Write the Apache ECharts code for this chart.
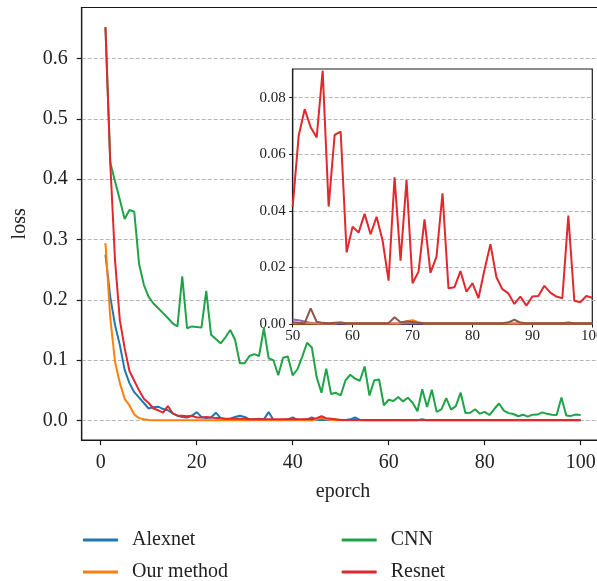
<!DOCTYPE html>
<html>
<head>
<meta charset="utf-8">
<script src="https://cdn.jsdelivr.net/npm/echarts@6/dist/echarts.min.js"></script>
<style>
html,body{margin:0;padding:0;background:#fff;}
#chart{width:597px;height:581px;}
</style>
</head>
<body>
<div id="chart"></div>
<script>
// ---- data ----
const epochs = Array.from({length: 100}, (_, i) => i + 1);

const alexnet = [0.275,0.205,0.158,0.125,0.084,0.062,0.047,0.038,0.029,0.020,
  0.022,0.023,0.019,0.017,0.012,0.008,0.006,0.005,0.008,0.014,
  0.006,0.004,0.005,0.013,0.004,0.002,0.003,0.006,0.008,0.006,
  0.002,0.002,0.003,0.002,0.014,0.001,0.001,0.001,0.002,0.005,
  0.001,0.001,0.002,0.005,0.001,0.001,0.001,0.001,0.001,0.001,
  0.001,0.002,0.005,0.001,0.0005,0.0005,0.0005,0.0005,0.0005,0.0005,
  0.0005,0.0005,0.0005,0.0005,0.0005,0.0005,0.002,0.0005,0.0005,0.0005,
  0.0005,0.0005,0.0005,0.0005,0.0005,0.0005,0.0005,0.0005,0.0005,0.0005,
  0.0005,0.0005,0.0005,0.0005,0.0005,0.0005,0.0005,0.0005,0.0005,0.0005,
  0.0005,0.0005,0.0005,0.0005,0.0005,0.0005,0.0005,0.0005,0.0005,0.0005];

const ourMethod = [0.294,0.170,0.097,0.062,0.036,0.025,0.010,0.004,0.002,0.001,
  0.0005,0.0005,0.0005,0.0005,0.0005,0.0005,0.0005,0.0005,0.0005,0.0005,
  0.0005,0.0005,0.0005,0.0005,0.0005,0.0005,0.0005,0.0005,0.0005,0.0005,
  0.0005,0.0005,0.0005,0.0005,0.0005,0.0005,0.0005,0.0005,0.0005,0.0005,
  0.0005,0.0005,0.0005,0.0005,0.002,0.004,0.002,0.001,0.0005,0.0005,
  0.0005,0.0005,0.0005,0.0005,0.0005,0.0005,0.0005,0.0005,0.0005,0.0005,
  0.0005,0.0005,0.0005,0.0005,0.0005,0.0005,0.0005,0.0005,0.0005,0.0005,
  0.0005,0.0005,0.0005,0.0005,0.0005,0.0005,0.0005,0.0005,0.0005,0.0005,
  0.0005,0.0005,0.0005,0.0005,0.0005,0.0005,0.0005,0.0005,0.0005,0.0005,
  0.0005,0.0005,0.0005,0.0005,0.0005,0.0005,0.0005,0.0005,0.0005,0.0005];

const cnn = [0.652,0.428,0.396,0.366,0.334,0.349,0.346,0.260,0.225,0.205,
  0.194,0.186,0.178,0.170,0.161,0.156,0.239,0.153,0.156,0.155,
  0.154,0.215,0.142,0.135,0.128,0.138,0.150,0.134,0.095,0.095,
  0.107,0.110,0.107,0.153,0.103,0.100,0.075,0.104,0.106,0.075,
  0.085,0.106,0.129,0.121,0.072,0.046,0.086,0.044,0.046,0.0415,
  0.0665,0.0759,0.0695,0.0659,0.0895,0.0415,0.0668,0.0680,0.0253,0.0344,
  0.0323,0.0389,0.0317,0.0379,0.0295,0.0153,0.0518,0.0224,0.0509,0.0144,
  0.0185,0.0370,0.0181,0.0238,0.0462,0.0126,0.0130,0.0187,0.0114,0.0144,
  0.0091,0.0191,0.0282,0.0165,0.0123,0.0108,0.0071,0.0097,0.0065,0.0097,
  0.0099,0.0135,0.0111,0.0097,0.0091,0.0383,0.0082,0.0077,0.0099,0.0093];

const resnet = [0.652,0.427,0.265,0.166,0.120,0.082,0.066,0.050,0.036,0.029,
  0.020,0.017,0.013,0.024,0.012,0.008,0.008,0.007,0.008,0.005,
  0.005,0.006,0.005,0.004,0.004,0.003,0.003,0.003,0.003,0.003,
  0.002,0.002,0.002,0.002,0.002,0.002,0.002,0.002,0.002,0.002,
  0.002,0.002,0.002,0.002,0.004,0.007,0.004,0.003,0.002,0.001,
  0.001,0.001,0.001,0.001,0.001,0.001,0.001,0.001,0.001,0.001,
  0.001,0.001,0.001,0.001,0.001,0.001,0.001,0.001,0.001,0.001,
  0.001,0.001,0.001,0.001,0.001,0.001,0.001,0.001,0.001,0.001,
  0.001,0.001,0.001,0.001,0.001,0.001,0.001,0.001,0.001,0.001,
  0.001,0.001,0.001,0.001,0.001,0.001,0.001,0.001,0.001,0.001];

// inset (epochs 50..100)
const insetEpochs = Array.from({length: 51}, (_, i) => i + 50);
const insetPurple = [0.0016,0.0013,0.0009,0.0004,0.0002,0.0002,0.0002,0.0002,0.0002,0.0002,
  0.0002,0.0002,0.0002,0.0002,0.0002,0.0002,0.0002,0.0002,0.0002,0.0002,
  0.0002,0.0002,0.0002,0.0002,0.0002,0.0002,0.0002,0.0002,0.0002,0.0002,
  0.0002,0.0002,0.0002,0.0002,0.0002,0.0002,0.0002,0.0002,0.0002,0.0002,
  0.0002,0.0002,0.0002,0.0002,0.0002,0.0002,0.0002,0.0002,0.0002,0.0002,0.0002];
const insetOrange = [0.0002,0.0002,0.0002,0.0002,0.0002,0.0002,0.0002,0.0002,0.0005,0.0002,
  0.0002,0.0002,0.0002,0.0002,0.0002,0.0002,0.0002,0.0002,0.0002,0.0010,
  0.0013,0.0006,0.0002,0.0002,0.0002,0.0002,0.0002,0.0002,0.0002,0.0002,
  0.0002,0.0002,0.0002,0.0002,0.0002,0.0002,0.0002,0.0002,0.0002,0.0002,
  0.0002,0.0002,0.0002,0.0002,0.0002,0.0002,0.0002,0.0002,0.0002,0.0002,0.0002];
const insetBrown = [0.0006,0.0004,0.0003,0.0055,0.0008,0.0004,0.0003,0.0004,0.0005,0.0003,
  0.0003,0.0003,0.0003,0.0003,0.0003,0.0003,0.0003,0.0024,0.0006,0.0009,
  0.0007,0.0004,0.0003,0.0003,0.0003,0.0003,0.0003,0.0003,0.0003,0.0003,
  0.0003,0.0003,0.0003,0.0003,0.0003,0.0003,0.0006,0.0015,0.0005,0.0003,
  0.0003,0.0003,0.0003,0.0003,0.0003,0.0003,0.0005,0.0003,0.0003,0.0003,0.0003];
const insetRed = cnn.slice(49);

const mainXTicks = [0, 20, 40, 60, 80, 100];
const mainYTicks = [0, 0.1, 0.2, 0.3, 0.4, 0.5, 0.6];

// ---- chart ----
const FONT = "'Liberation Serif', 'DejaVu Serif', serif";
const pair = (xs, ys) => xs.map((x, i) => [x, ys[i]]);
const chart = echarts.init(document.getElementById('chart'), null, {renderer: 'canvas'});

const gridColor = '#b5b5b5';
const lineSeries = (name, data, color, xi, yi, z) => ({
  name, type: 'line', data, xAxisIndex: xi, yAxisIndex: yi,
  showSymbol: false, symbol: 'none', clip: true, z: z,
  lineStyle: {color, width: 2}, itemStyle: {color},
  emphasis: {disabled: true}, animation: false
});
const legendItem = (name, left, top) => ({
  data: [name], orient: 'horizontal', left, top, padding: 0,
  icon: 'rect', itemWidth: 35, itemHeight: 3,
  textStyle: {fontFamily: FONT, fontSize: 20, color: '#222', padding: [0, 0, 0, 9]}
});

chart.setOption({
  animation: false,
  backgroundColor: '#fff',
  textStyle: {fontFamily: FONT},
  grid: [
    {left: 81.7, top: 7.5, width: 522.7, height: 432.7, show: true, outerBoundsMode: 'none', containLabel: false,
     borderColor: '#1a1a1a', borderWidth: 1.2, backgroundColor: 'transparent'},
    {left: 292.7, top: 69, width: 299.6, height: 255, show: true, outerBoundsMode: 'none', containLabel: false,
     borderColor: '#1a1a1a', borderWidth: 1.2, backgroundColor: 'transparent'}
  ],
  xAxis: [
    {type: 'value', gridIndex: 0, min: -3.95, max: 104.95, splitNumber: 5,
     name: 'eporch', nameLocation: 'middle', nameGap: 42,
     nameTextStyle: {fontFamily: FONT, fontSize: 20, color: '#222'},
     axisLine: {onZero: false, lineStyle: {color: '#1a1a1a', width: 1.2}},
     axisTick: {length: 5, lineStyle: {color: '#1a1a1a', width: 1.2}, customValues: mainXTicks},
     axisLabel: {fontFamily: FONT, fontSize: 20, color: '#222', margin: 13, customValues: mainXTicks},
     splitLine: {show: false}},
    {type: 'value', gridIndex: 1, min: 50, max: 100, interval: 10,
     axisLine: {onZero: false, lineStyle: {color: '#1a1a1a', width: 1.2}},
     axisTick: {length: 3.5, lineStyle: {color: '#1a1a1a', width: 1}},
     axisLabel: {fontFamily: FONT, fontSize: 15, color: '#222', margin: 5, showMinLabel: true, showMaxLabel: true},
     splitLine: {show: false}}
  ],
  yAxis: [
    {type: 'value', gridIndex: 0, min: -0.0326, max: 0.6846, splitNumber: 7,
     name: 'loss', nameLocation: 'middle', nameGap: 52, nameRotate: 90,
     nameTextStyle: {fontFamily: FONT, fontSize: 20, color: '#222'},
     axisLine: {onZero: false, lineStyle: {color: '#1a1a1a', width: 1.2}},
     axisTick: {length: 5, lineStyle: {color: '#1a1a1a', width: 1.2}, customValues: mainYTicks},
     axisLabel: {fontFamily: FONT, fontSize: 20, color: '#222', margin: 14, customValues: mainYTicks,
                 formatter: v => v.toFixed(1)},
     splitLine: {show: true, lineStyle: {color: gridColor, type: [4, 2], width: 1}}},
    {type: 'value', gridIndex: 1, min: 0, max: 0.0901, splitNumber: 5,
     axisLine: {onZero: false, lineStyle: {color: '#1a1a1a', width: 1.2}},
     axisTick: {length: 3.5, lineStyle: {color: '#1a1a1a', width: 1}},
     axisLabel: {fontFamily: FONT, fontSize: 15, color: '#222', margin: 7,
                 showMaxLabel: false, formatter: v => v.toFixed(2)},
     splitLine: {show: true, showMinLine: false, showMaxLine: false,
                 lineStyle: {color: gridColor, type: [4, 2], width: 1}}}
  ],
  legend: [
    legendItem('Alexnet', 83, 530),
    legendItem('Our method', 83, 562),
    legendItem('CNN', 341.7, 530),
    legendItem('Resnet', 341.7, 562)
  ],
  series: [
    lineSeries('Alexnet', pair(epochs, alexnet), '#1f77b4', 0, 0, 2),
    lineSeries('Our method', pair(epochs, ourMethod), '#ff7f0e', 0, 0, 3),
    lineSeries('CNN', pair(epochs, cnn), '#1fa346', 0, 0, 4),
    lineSeries('Resnet', pair(epochs, resnet), '#e0282e', 0, 0, 5),
    lineSeries('inset-purple', pair(insetEpochs, insetPurple), '#9467bd', 1, 1, 2),
    lineSeries('inset-orange', pair(insetEpochs, insetOrange), '#ff7f0e', 1, 1, 3),
    lineSeries('inset-brown', pair(insetEpochs, insetBrown), '#8c564b', 1, 1, 4),
    lineSeries('inset-CNN', pair(insetEpochs, insetRed), '#e0282e', 1, 1, 5)
  ]
});
</script>
</body>
</html>
